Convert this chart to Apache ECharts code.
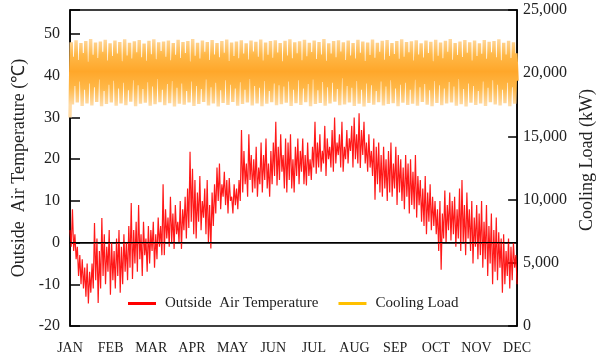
<!DOCTYPE html>
<html>
<head>
<meta charset="utf-8">
<script src="https://cdn.jsdelivr.net/npm/echarts@6/dist/echarts.min.js"></script>
<style>html,body{margin:0;padding:0;background:#fff;}#c{width:604px;height:356px;}</style>
</head>
<body>
<div id="c"></div>
<script>
// Month tick labels
const months = ['JAN','FEB','MAR','APR','MAY','JUN','JUL','AUG','SEP','OCT','NOV','DEC'];

// Outside air temperature (℃): estimated 2-day highs and lows, Jan -> Dec
const tempHigh = [
  3, 8, 2, -1, -3, -4, -6, -5, -7, -5,
  4.7, 1, -2, 5.9, 2, -1, 3, 0, -2, 1,
  3, -1, 2, 0, 4, 9.5, 3, 5, 9, 2,
  5, 1, 4, 3, 5, 2, 6, 4, 14, 8,
  6, 11, 7, 9, 5, 10, 8, 11, 13, 21.8,
  17.7, 15, 12, 16, 10, 13, 15, 9, 12, 14,
  18, 19, 14, 17, 15, 15.5, 11, 14, 13, 15,
  27, 22, 19, 26, 21, 20, 23, 18, 24, 21,
  25, 19, 22, 24, 29, 23, 26, 21, 25, 24,
  26, 20, 23, 25, 22, 25, 21, 24, 20, 23,
  29, 24, 26, 22, 28, 25, 23, 27, 30, 24,
  26, 29, 23, 27, 25, 28, 30, 26, 31, 27,
  29, 24, 26, 22, 25, 23, 24, 21, 23, 20,
  22, 24, 19, 23, 21, 20, 18, 21, 19, 20,
  17, 21, 16, 15, 13, 16, 12, 14, 11, 10,
  8, 10, 7, 12.5, 9, 12, 10, 11, 8, 13,
  15, 9, 12, 8, 10, 6, 9, 7, 10, 5,
  9, 4, 7, 3, 6, 2.5, 1, 2, -2, 1,
  -1, 0, -3
];
const tempLow = [
  -1, -2, -4, -8, -10, -11, -13, -14.6, -12, -11,
  -9, -14.5, -11, -8, -10, -7, -12.5, -9, -11, -8,
  -12, -10, -7, -9, -6, -8.7, -5, -7, -4, -8,
  -3, -7, -5, -2, -6, -4, -1, -3, -3, 1,
  -1, 0, -1.5, 2, 0, -1.5, 3, 1, 3.5, 5,
  2, 1, 5, 3, 6, 2, 0, -1.4, 4, 7,
  10, 8, 11, 9, 7, 10, 7, 9, 8, 10,
  12, 14, 11, 15, 12, 13, 11, 14, 12, 15,
  13, 11, 14, 16, 13.7, 15, 17, 13, 12, 15,
  13, 12, 16, 14, 17, 14, 13.7, 16, 15, 18,
  16.5, 18, 17, 19, 16, 20, 18, 17, 19, 21,
  18, 17, 20, 19, 22, 18, 20, 19, 17.9, 21,
  19, 17, 18, 16, 10.3, 14, 12, 11, 13, 10,
  12, 11, 13, 9, 12, 10, 8, 11, 7, 9,
  8, 6, 9, 5, 4, 2, 5, 3, 4, 2,
  -2, -6.5, 1, 0, 3, 0.5, 2, -1, 1, -2,
  0, -3, 1, -2, -5, -1, -4, -3, -6, -4,
  -8, -5, -10, -7, -9, -6, -12, -10, -8, -11,
  -9, -6, -10
];

// Cooling load (kW): estimated 4-day peaks, troughs and inner swings
const loadInitial = 16500;
const loadPeak = [
  22450,22600,22380,22550,22700,22420,22510,22640,22360,22580,22470,22690,22400,22530,22620,22350,22560,22680,22440,22510,22590,22380,22650,
  22470,22540,22700,22410,22580,22460,22630,22390,22550,22670,22430,22510,22600,22370,22580,22490,22660,22420,22540,22610,22380,22570,22690,
  22450,22520,22640,22400,22580,22470,22700,22360,22550,22610,22440,22590,22380,22650,22500,22430,22670,22410,22560,22620,22390,22540,22680,
  22460,22530,22600,22370,22590,22480,22650,22420,22560,22700,22390,22510,22630,22450,22580,22360,22620,22490,22550,22680,22410,22570,22440
];
const loadTrough = [
  17520,17680,17400,17610,17450,17730,17380,17560,17690,17420,17600,17470,17750,17390,17580,17660,17430,17540,17710,17460,17620,17370,17590,
  17500,17680,17410,17570,17730,17440,17600,17360,17650,17490,17720,17420,17560,17690,17450,17610,17380,17580,17700,17470,17540,17660,17400,
  17630,17480,17710,17390,17570,17650,17430,17600,17740,17460,17520,17680,17410,17590,17370,17640,17500,17700,17440,17560,17620,17390,17670,
  17480,17590,17420,17720,17510,17380,17640,17460,17600,17690,17430,17550,17370,17660,17490,17610,17410,17700,17530,17450,17620,17390,17580
];
const loadUpperMid = [
  21300,21050,21600,20900,21450,21200,21700,21000,21350,21550,20950,21400,21150,21650,21250,20980,21500,21100,21750,21300,21020,21450,21200,
  21600,20920,21380,21150,21700,21050,21480,21250,21620,20960,21350,21180,21550,21080,21720,21300,21000,21460,21220,21640,20940,21400,21170,
  21580,21030,21340,21680,21120,21470,20990,21560,21260,21710,21040,21390,21160,21620,20970,21430,21210,21690,21070,21360,21520,21140,21300,
  21650,21010,21480,21230,21590,20950,21370,21180,21700,21060,21440,21270,21610,21000,21350,21530,21130,21660,21250,21020,21480,21200,21580
];
const loadLowerMid = [
  19000,19350,18700,19200,18900,19500,18600,19100,19400,18800,19250,18650,19450,19050,18750,19300,18950,19550,18700,19150,19400,18850,19200,
  18600,19350,19000,18750,19500,18900,19250,18650,19450,19100,18800,19300,18700,19550,19000,18850,19400,18600,19200,19050,18950,19350,18700,
  19450,18800,19150,19500,18650,19300,18900,19250,18750,19600,19000,18850,19400,18700,19200,19050,18600,19350,18950,19450,18800,19100,19250,
  18700,19500,18900,19150,18650,19400,19050,18800,19300,18950,19550,18750,19200,19000,18600,19350,18850,19450,19100,18700,19250,18900,19400
];

// Build sequences (values only), then spread them evenly over the year axis (0..11)
const tempSeq = [];
for (let i = 0; i < Math.min(tempHigh.length, tempLow.length); i++) {
  tempSeq.push(tempHigh[i], tempLow[i]);
}
const loadSeq = [loadInitial];
const nL = Math.min(loadPeak.length, loadTrough.length, loadUpperMid.length, loadLowerMid.length);
for (let i = 0; i < nL; i++) {
  loadSeq.push(loadPeak[i], loadTrough[i], loadUpperMid[i], loadLowerMid[i]);
}
const spread = seq => seq.map((v, k) => [k / (seq.length - 1) * (months.length - 1), v]);

const FONT = '"Liberation Serif", "Times New Roman", serif';
// vertical colour gradient for the dense load band (light edges, darker core), in pixels
const loadGradient = new echarts.graphic.LinearGradient(0, 38, 0, 105, [
  {offset: 0, color: '#FFDBA6'},
  {offset: 0.25, color: '#FFB848'},
  {offset: 0.5, color: '#FFA72A'},
  {offset: 0.75, color: '#FFB848'},
  {offset: 1, color: '#FFDBA6'}
], true);

const chart = echarts.init(document.getElementById('c'), null, {renderer: 'canvas'});
chart.setOption({
  animation: false,
  backgroundColor: '#fff',
  grid: {left: 70, right: 85, top: 10, bottom: 30, show: true, borderColor: '#000', borderWidth: 1.5},
  legend: {
    left: 123, top: 291, itemGap: 20, itemWidth: 28, itemHeight: 3, icon: 'rect',
    textStyle: {fontFamily: FONT, fontSize: 15, color: '#222', padding: [0, 0, 0, 4]},
    data: [
      {name: 'Outside  Air Temperature', itemStyle: {color: '#FF0000'}},
      {name: 'Cooling Load', itemStyle: {color: '#FFC000'}}
    ]
  },
  xAxis: {
    type: 'value', min: 0, max: months.length - 1, interval: 1,
    axisLine: {show: true, lineStyle: {color: '#000', width: 1.5}},
    axisTick: {show: false},
    splitLine: {show: false},
    axisLabel: {formatter: v => months[Math.round(v)] || '', fontFamily: FONT, fontSize: 14, color: '#222', margin: 15}
  },
  yAxis: [{
    type: 'value', position: 'left', min: -20, max: 55.8, interval: 10,
    name: 'Outside  Air Temperature (℃)', nameLocation: 'middle', nameRotate: 90, nameGap: 34,
    nameTextStyle: {fontFamily: FONT, fontSize: 18, color: '#222'},
    axisLine: {show: true, lineStyle: {color: '#000', width: 1.5}},
    axisTick: {show: true, inside: true, length: 10, lineStyle: {color: '#000', width: 1.5}},
    splitLine: {show: false},
    axisLabel: {formatter: v => (Math.abs(v % 10) < 1e-9 ? String(v) : ''), fontFamily: FONT, fontSize: 16, color: '#222', margin: 10}
  }, {
    type: 'value', position: 'right', min: 0, max: 25000, interval: 5000,
    name: 'Cooling Load (kW)', nameLocation: 'middle', nameRotate: 90, nameGap: 57,
    nameTextStyle: {fontFamily: FONT, fontSize: 18, color: '#222', padding: [0, 0, 0, 16]},
    axisLine: {show: true, lineStyle: {color: '#000', width: 1.5}},
    axisTick: {show: true, inside: true, length: 9, lineStyle: {color: '#000', width: 1.5}},
    splitLine: {show: false},
    axisLabel: {formatter: v => v.toLocaleString('en-US'), fontFamily: FONT, fontSize: 16, color: '#222', margin: 6}
  }],
  series: [{
    name: 'Outside  Air Temperature', type: 'line', yAxisIndex: 0,
    data: spread(tempSeq), showSymbol: false, symbol: 'none',
    lineStyle: {color: '#FF0000', width: 1.2, opacity: 0.9},
    itemStyle: {color: '#FF0000'},
    markLine: {silent: true, symbol: 'none', label: {show: false},
      lineStyle: {color: '#000', width: 1, type: 'solid'}, data: [{yAxis: 0}]}
  }, {
    name: 'Cooling Load', type: 'line', yAxisIndex: 1,
    data: spread(loadSeq), showSymbol: false, symbol: 'none',
    lineStyle: {color: loadGradient, width: 3.4},
    itemStyle: {color: '#FFC000'}
  }]
});
</script>
</body>
</html>
